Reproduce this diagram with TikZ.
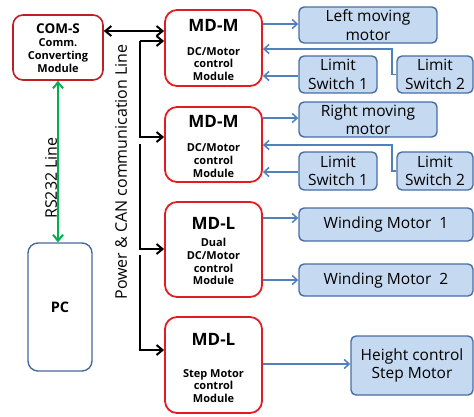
\documentclass[tikz,border=0pt]{standalone}
\usepackage{fontspec}
\setmainfont{Open Sans}
\usetikzlibrary{arrows.meta}
\definecolor{mdred}{RGB}{226,28,36}
\definecolor{comred}{RGB}{192,30,36}
\definecolor{bfill}{RGB}{197,217,241}
\definecolor{bdraw}{RGB}{70,110,165}
\definecolor{barrow}{RGB}{79,129,189}
\definecolor{pcblue}{RGB}{70,105,155}
\definecolor{rsgreen}{RGB}{0,176,80}
\tikzset{
  mdbox/.style={draw=mdred, line width=1.8pt, rounded corners=12pt, minimum width=97pt, inner sep=0pt},
  combox/.style={draw=comred, line width=1.6pt, rounded corners=10pt, minimum width=90pt, minimum height=65pt, inner sep=0pt},
  pcbox/.style={draw=pcblue, line width=1.4pt, rounded corners=10pt, minimum width=64pt, minimum height=128pt, inner sep=0pt},
  bbox/.style={draw=bdraw, fill=bfill, line width=1.4pt, rounded corners=5pt, inner sep=0pt, font=\fontsize{15.5}{18.5}\selectfont, align=center},
  ttl/.style={font=\bfseries\fontsize{17}{19}\selectfont, inner sep=0pt},
  sub/.style={font=\bfseries\fontsize{11}{12.8}\selectfont, align=center, inner sep=0pt},
  bus/.style={draw=black, line width=2.4pt, -{Straight Barb[length=6pt,width=10pt,line width=2pt]}},
  blink/.style={draw=barrow, line width=1.5pt, -{Straight Barb[length=5pt,width=9pt,line width=1.5pt]}},
}
\begin{document}
\begin{tikzpicture}[x=1pt,y=-1pt]
\useasboundingbox (0,0) rectangle (474,416);
% main boxes
\node[combox] (com) at (58,47.5) {};
\node[font=\bfseries\fontsize{13.5}{15}\selectfont, inner sep=0pt] (comt) at (58,29) {COM-S};
\node[sub, font=\bfseries\fontsize{11}{13}\selectfont] (coms) at (58,56) {Comm.\\Converting\\Module};
\node[pcbox] (pc) at (60,307) {};
\node[font=\bfseries\fontsize{14.5}{16}\selectfont, inner sep=0pt] (pct) at (60,307) {PC};

\node[mdbox, minimum height=76pt] (m1) at (213.5,48) {};
\node[ttl] (m1t) at (213.5,25) {MD-M};
\node[sub] (m1s) at (213.5,64) {DC/Motor\\control\\Module};
\node[mdbox, minimum height=75pt] (m2) at (213.5,144.5) {};
\node[ttl] (m2t) at (213.5,121) {MD-M};
\node[sub] (m2s) at (213.5,160.5) {DC/Motor\\control\\Module};
\node[mdbox, minimum height=95pt] (l1) at (213.5,249.5) {};
\node[ttl] (l1t) at (213.5,223) {MD-L};
\node[sub] (l1s) at (213.5,261.5) {Dual\\DC/Motor\\control\\Module};
\node[mdbox, minimum height=96pt] (l2) at (213.5,365) {};
\node[ttl] (l2t) at (213.5,339) {MD-L};
\node[sub] (l2s) at (213.5,386) {Step Motor\\control\\Module};

% blue boxes
\node[bbox, minimum width=138pt, minimum height=36pt] (lm) at (368,25) {Left moving\\motor};
\node[bbox, minimum width=78pt, minimum height=37pt] (ls1a) at (338,74.5) {Limit\\Switch 1};
\node[bbox, minimum width=76pt, minimum height=37pt] (ls2a) at (435,74.5) {Limit\\Switch 2};
\node[bbox, minimum width=138pt, minimum height=35pt] (rm) at (368,119.5) {Right moving\\motor};
\node[bbox, minimum width=78pt, minimum height=38pt] (ls1b) at (338,171) {Limit\\Switch 1};
\node[bbox, minimum width=76pt, minimum height=38pt] (ls2b) at (435,171) {Limit\\Switch 2};
\node[bbox, minimum width=174pt, minimum height=33pt] (w1) at (386,224.5) {Winding Motor\ \ 1};
\node[bbox, minimum width=174pt, minimum height=32pt] (w2) at (386,280) {Winding Motor\ \ 2};
\node[bbox, minimum width=122pt, minimum height=59pt] (hs) at (412,365.5) {Height control\\Step Motor};

% rotated labels
\node[rotate=90, font=\fontsize{16}{18}\selectfont, inner sep=0pt] (buslbl) at (121,172) {Power \& CAN communication Line};
\node[rotate=90, font=\fontsize{16}{18}\selectfont, inner sep=0pt] (rslbl) at (51,178) {RS232 Line};

% coordinates for bus
\coordinate (b0) at (140,41);
\coordinate (b1) at (140,144);
\coordinate (b2) at (140,255);

% bus connectors
\draw[bus, {Straight Barb[length=6pt,width=10pt,line width=2pt]}-{Straight Barb[length=6pt,width=10pt,line width=2pt]}] (com.east |- 0,31) -- (m1.west |- 0,31);
\draw[bus] (b0) -- (m1.west |- b0);
\draw[bus] (b0) |- (m2.west |- 0,137);
\draw[bus] (b1) |- (l1.west |- 0,249);
\draw[bus] (b2) |- (l2.west |- 0,350);

% RS232
\draw[draw=rsgreen, line width=2pt, {Straight Barb[length=6pt,width=10pt,line width=2pt]}-{Straight Barb[length=6pt,width=10pt,line width=2pt]}] (com.south -| 58,0) -- (pc.north -| 58,0);

% blue connectors
\draw[blink] (m1.east |- 0,24) -- (lm.west |- 0,24);
\draw[blink] (ls1a.west |- 0,76) -- (m1.east |- 0,76);
\draw[blink] (ls2a.west) -- (392,74.5) -- (392,49) -- (m1.east |- 0,49);
\draw[blink] (m2.east |- 0,118) -- (rm.west |- 0,118);
\draw[blink] (ls1b.west |- 0,172) -- (m2.east |- 0,172);
\draw[blink] (ls2b.west) -- (392,171) -- (392,145) -- (m2.east |- 0,145);
\draw[blink] (l1.east |- 0,218) -- (w1.west |- 0,218);
\draw[blink] (l1.east |- 0,280) -- (w2.west |- 0,280);
\draw[blink] (l2.east |- 0,364) -- (hs.west |- 0,364);
\end{tikzpicture}
\end{document}
